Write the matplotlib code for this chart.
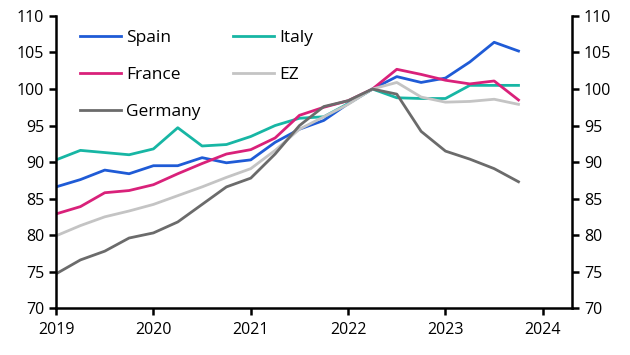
import numpy as np
import matplotlib
matplotlib.use("Agg")
import matplotlib.pyplot as plt

# Quarterly, 2019 Q1 - 2023 Q4 (index, 2022 Q2 = 100)
quarters = np.arange(2019, 2024, 0.25)

spain = [86.6, 87.6, 88.9, 88.4, 89.5, 89.5, 90.6, 89.9, 90.3, 92.7, 94.5, 95.7,
         98.0, 100.0, 101.7, 100.9, 101.5, 103.7, 106.4, 105.2]
italy = [90.3, 91.6, 91.3, 91.0, 91.8, 94.7, 92.2, 92.4, 93.5, 95.0, 96.0, 96.2,
         98.0, 100.0, 98.8, 98.7, 98.7, 100.5, 100.5, 100.5]
france = [82.9, 83.9, 85.8, 86.1, 86.9, 88.4, 89.8, 91.1, 91.7, 93.3, 96.4, 97.5,
          98.4, 100.0, 102.7, 102.0, 101.2, 100.7, 101.1, 98.5]
ez = [79.9, 81.3, 82.5, 83.3, 84.2, 85.4, 86.6, 87.9, 89.1, 91.6, 94.5, 96.2,
      97.9, 100.0, 100.9, 98.9, 98.2, 98.3, 98.6, 97.9]
germany = [74.7, 76.6, 77.8, 79.6, 80.3, 81.8, 84.2, 86.6, 87.8, 91.1, 95.0, 97.6,
           98.4, 100.0, 99.3, 94.2, 91.5, 90.4, 89.1, 87.3]

year_ticks = [2019, 2020, 2021, 2022, 2023, 2024]
y_ticks = [70, 75, 80, 85, 90, 95, 100, 105, 110]

plt.rcParams['font.family'] = ['Open Sans', 'DejaVu Sans']
plt.rcParams['font.size'] = 11.5

fig, ax = plt.subplots(figsize=(6.3, 3.55), dpi=100)
fig.subplots_adjust(left=0.089, right=0.908, top=0.955, bottom=0.132)

lines = {}
lines['Spain'], = ax.plot(quarters, spain, color='#1f5bd6', lw=2)
lines['Italy'], = ax.plot(quarters, italy, color='#17b6a4', lw=2)
lines['France'], = ax.plot(quarters, france, color='#d9217a', lw=2)
lines['EZ'], = ax.plot(quarters, ez, color='#c4c4c4', lw=2)
lines['Germany'], = ax.plot(quarters, germany, color='#6b6b6b', lw=2)

# column-wise fill gives rows: Spain/Italy, France/EZ, Germany
order = ['Spain', 'France', 'Germany', 'Italy', 'EZ']
ax.legend([lines[k] for k in order], order, ncol=2, frameon=False,
          loc='upper left', bbox_to_anchor=(0.016, 1.005), handlelength=2.35,
          handletextpad=0.3, columnspacing=1.9, labelspacing=1.2, fontsize=12.5)

ax.set_xlim(2019, 2024.3)
ax.set_ylim(70, 110)
ax.set_xticks(year_ticks)
ax.set_yticks(y_ticks)

ax.spines['top'].set_visible(False)
for s in ['left', 'right', 'bottom']:
    ax.spines[s].set_linewidth(1.8)
ax.tick_params(axis='both', direction='out', length=5, width=1.8, labelsize=11.5)
ax.tick_params(axis='x', pad=5)
ax.tick_params(axis='y', left=True, right=True, labelleft=True, labelright=True)

fig.savefig('out.png', dpi=100, facecolor='white')
